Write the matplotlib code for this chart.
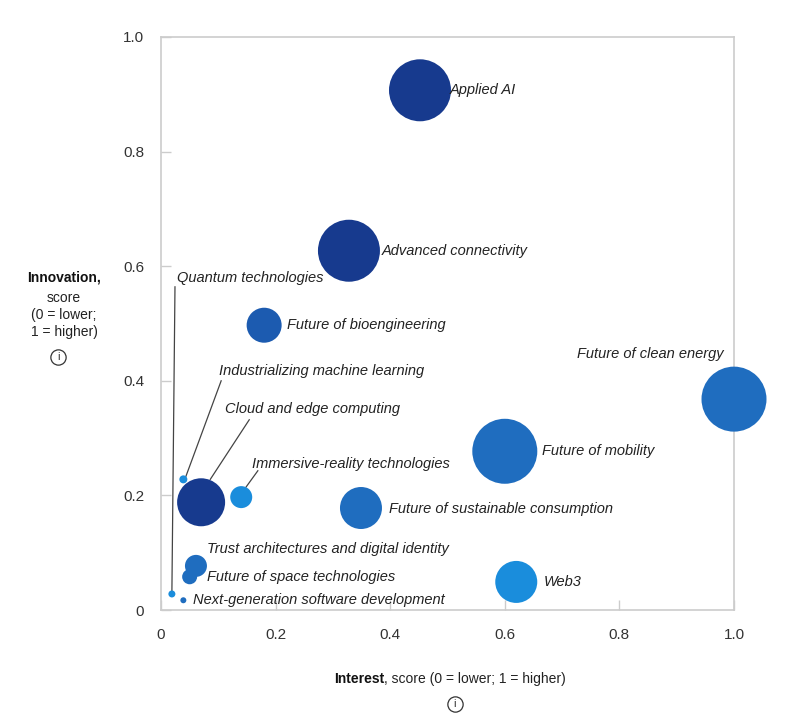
import matplotlib.pyplot as plt
from matplotlib.lines import Line2D

plt.rcParams['font.family'] = ['Liberation Sans', 'DejaVu Sans']

# data
names = ['Applied AI', 'Advanced connectivity', 'Future of bioengineering',
         'Future of clean energy', 'Future of mobility',
         'Future of sustainable consumption', 'Web3',
         'Immersive-reality technologies', 'Cloud and edge computing',
         'Industrializing machine learning', 'Trust architectures and digital identity',
         'Future of space technologies', 'Quantum technologies',
         'Next-generation software development']
interest = [0.452, 0.328, 0.180, 1.000, 0.600, 0.349, 0.620,
            0.140, 0.070, 0.039, 0.061, 0.050, 0.019, 0.039]
innovation = [0.907, 0.627, 0.497, 0.368, 0.277, 0.178, 0.049,
              0.197, 0.188, 0.228, 0.077, 0.058, 0.028, 0.017]
bubble = [31, 31, 17.5, 32.5, 32.5, 21, 21, 11, 24, 4, 11, 7.5, 3.5, 3]

navy = '#173a8e'
mid = '#1c5bb0'
blue = '#1f6dbf'
light = '#1a8ddc'
colors = [navy, navy, mid, blue, blue, blue, light,
          light, navy, light, blue, blue, light, blue]

dpi = 100
fig = plt.figure(figsize=(8.11, 7.2), dpi=dpi)
ax = fig.add_axes([161/811, 110/720, 573/811, 573/720])

sizes = [(2 * r * 72 / dpi) ** 2 for r in bubble]
ax.scatter(interest, innovation, s=sizes, c=colors, linewidths=0, zorder=3, clip_on=False)

ax.set_xlim(0, 1)
ax.set_ylim(0, 1)
ax.set_xticks([0, 0.2, 0.4, 0.6, 0.8, 1.0])
ax.set_xticklabels(['0', '0.2', '0.4', '0.6', '0.8', '1.0'])
ax.set_yticks([0, 0.2, 0.4, 0.6, 0.8, 1.0])
ax.set_yticklabels(['0', '0.2', '0.4', '0.6', '0.8', '1.0'])
for s in ax.spines.values():
    s.set_color('#cccccc')
    s.set_linewidth(1.2)
    s.set_zorder(1)
ax.tick_params(direction='in', length=7, width=1, color='#cccccc',
               labelsize=11, labelcolor='#333333')
ax.tick_params(axis='x', pad=13)
ax.tick_params(axis='y', pad=12)

txt = dict(fontsize=10.5, style='italic', color='#222222', va='center')

# labels placed right/left of bubbles (pixel offsets)
offsets = {
    'Applied AI': (30, 0, 'left'),
    'Advanced connectivity': (33, 0, 'left'),
    'Future of bioengineering': (23, 0, 'left'),
    'Future of clean energy': (-10, 45, 'right'),
    'Future of mobility': (37, 0, 'left'),
    'Future of sustainable consumption': (28, -1, 'left'),
    'Web3': (27, 0, 'left'),
    'Trust architectures and digital identity': (11, 17, 'left'),
    'Future of space technologies': (17, 0, 'left'),
    'Next-generation software development': (10, 0, 'left'),
}
for n, x, y in zip(names, interest, innovation):
    if n in offsets:
        dx, dy, ha = offsets[n]
        ax.annotate(n, (x, y), xytext=(dx, dy), textcoords='offset pixels',
                    ha=ha, **txt)

# labels with leader lines
leaders = {
    'Quantum technologies': ((0.0244, 0.564), (0.028, 0.579)),
    'Industrializing machine learning': ((0.105, 0.400), (0.101, 0.417)),
    'Cloud and edge computing': ((0.154, 0.332), (0.112, 0.351)),
    'Immersive-reality technologies': ((0.169, 0.243), (0.159, 0.255)),
}
starts = {
    'Quantum technologies': (0.019, 0.030),
    'Industrializing machine learning': (0.043, 0.232),
    'Cloud and edge computing': (0.086, 0.228),
    'Immersive-reality technologies': (0.148, 0.214),
}
for n, (end, lab) in leaders.items():
    sx, sy = starts[n]
    ax.plot([sx, end[0]], [sy, end[1]], color='#444444', lw=0.9, zorder=2)
    ax.text(lab[0], lab[1], n, ha='left', **txt)

# axis titles
fig.text(64/811, 1 - 277/720, 'Innovation,', fontsize=10, fontweight='bold',
         ha='center', va='center', color='#111111')
fig.text(64/811, 1 - 315/720, 'score\n(0 = lower;\n1 = higher)', fontsize=10,
         ha='center', va='center', color='#222222', linespacing=1.25)

bold = fig.text(334/811, 1 - 679/720, 'Interest', fontsize=10, fontweight='bold',
                ha='left', va='center', color='#111111')
fig.canvas.draw()
bb = bold.get_window_extent()
fig.text(bb.x1 / fig.bbox.width, 1 - 679/720, ', score (0 = lower; 1 = higher)',
         fontsize=10, ha='left', va='center', color='#222222')

# info icons
for cx, cy in [(58, 357), (455, 704)]:
    fig.add_artist(Line2D([cx/811], [1 - cy/720], marker='o', markersize=11,
                          mfc='none', mec='#333333', mew=0.9,
                          transform=fig.transFigure))
    fig.text(cx/811, 1 - cy/720, 'i', fontsize=8, ha='center', va='center',
             color='#333333')

fig.savefig('out.png', dpi=dpi)
